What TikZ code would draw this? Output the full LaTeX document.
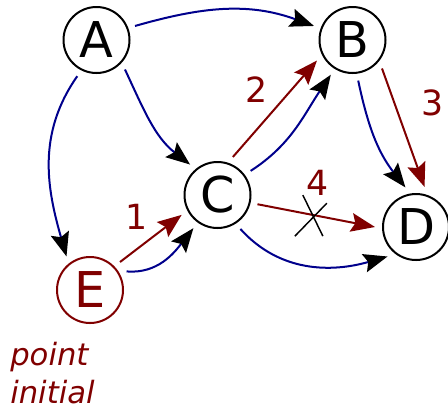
\documentclass[tikz,border=0pt]{standalone}
\usepackage{fontspec}
\setmainfont{DejaVu Sans}
\usepackage{tikz}
\usetikzlibrary{positioning}
\usetikzlibrary{arrows.meta}
\definecolor{darkred}{RGB}{128,0,0}
\definecolor{navy}{RGB}{0,0,140}

\begin{document}
\begin{tikzpicture}[x=0.75pt, y=0.75pt,
state/.style={circle, draw, line width=1.5pt, minimum size=49.5pt, inner sep=0pt, outer sep=6pt, font=\fontsize{37}{37}\selectfont},
start/.style={state, draw=darkred, text=darkred},
blueedge/.style={navy, line width=1.5pt, -{Stealth[length=18pt, width=14pt, inset=3pt, black]}},
rededge/.style={darkred, line width=1.5pt, -{Stealth[length=18pt, width=14pt, inset=3pt]}},
num/.style={darkred, inner sep=0pt, font=\fontsize{26}{26}\selectfont}]
\useasboundingbox (0,0) rectangle (448,-408);

% states
\node [state] (A) at (96.5,-40) {A};
\node [state] (B) at (352.5,-40) {B};
\node [state] (C) at (217.5,-195) {C};
\node [state] (D) at (416,-227) {D};
\node [start] (E) at (90,-290) {E};

\node [anchor=north west, inner sep=0pt, align=left, darkred, font=\fontsize{23}{28.5}\selectfont\itshape] (init) at (10,-342) {point\\initial};

% graph edges
\draw [blueedge] (A.20) to[out=16, in=160] (B.160);
\draw [blueedge] (A.-46) to[out=-65, in=142] (C.132);
\draw [blueedge] (A.-118) to[out=-125, in=106] (E.125);
\draw [blueedge] (C.36) to[out=33, in=-124] (B.-122);
\draw [blueedge] (B.-82) to[out=-78, in=128] (D.105);
\draw [blueedge] (C.-56) to[out=-48, in=-164] (D.-134);
\draw [blueedge] (E.27) to[out=-5, in=-128] (C.-126);

% path steps
\draw [rededge] (E.43) -- (C.209);
\draw [rededge] (C.68) -- (B.210);
\draw [rededge] (B.-44) -- (D.78);
\draw [rededge] (C.-13) -- coordinate[pos=0.48] (cut) (D.180);

% blocked step
\draw [line width=1.1pt] (cut) ++(-11,20) -- ++(20,-41);
\draw [line width=1.1pt] (cut) ++(13,12) -- ++(-32,-33);

% step numbers
\node [num] (n1) at (137,-217) {1};
\node [num] (n2) at (257,-90) {2};
\node [num] (n3) at (433,-103) {3};
\node [num] (n4) at (318,-183) {4};
\end{tikzpicture}
\end{document}
